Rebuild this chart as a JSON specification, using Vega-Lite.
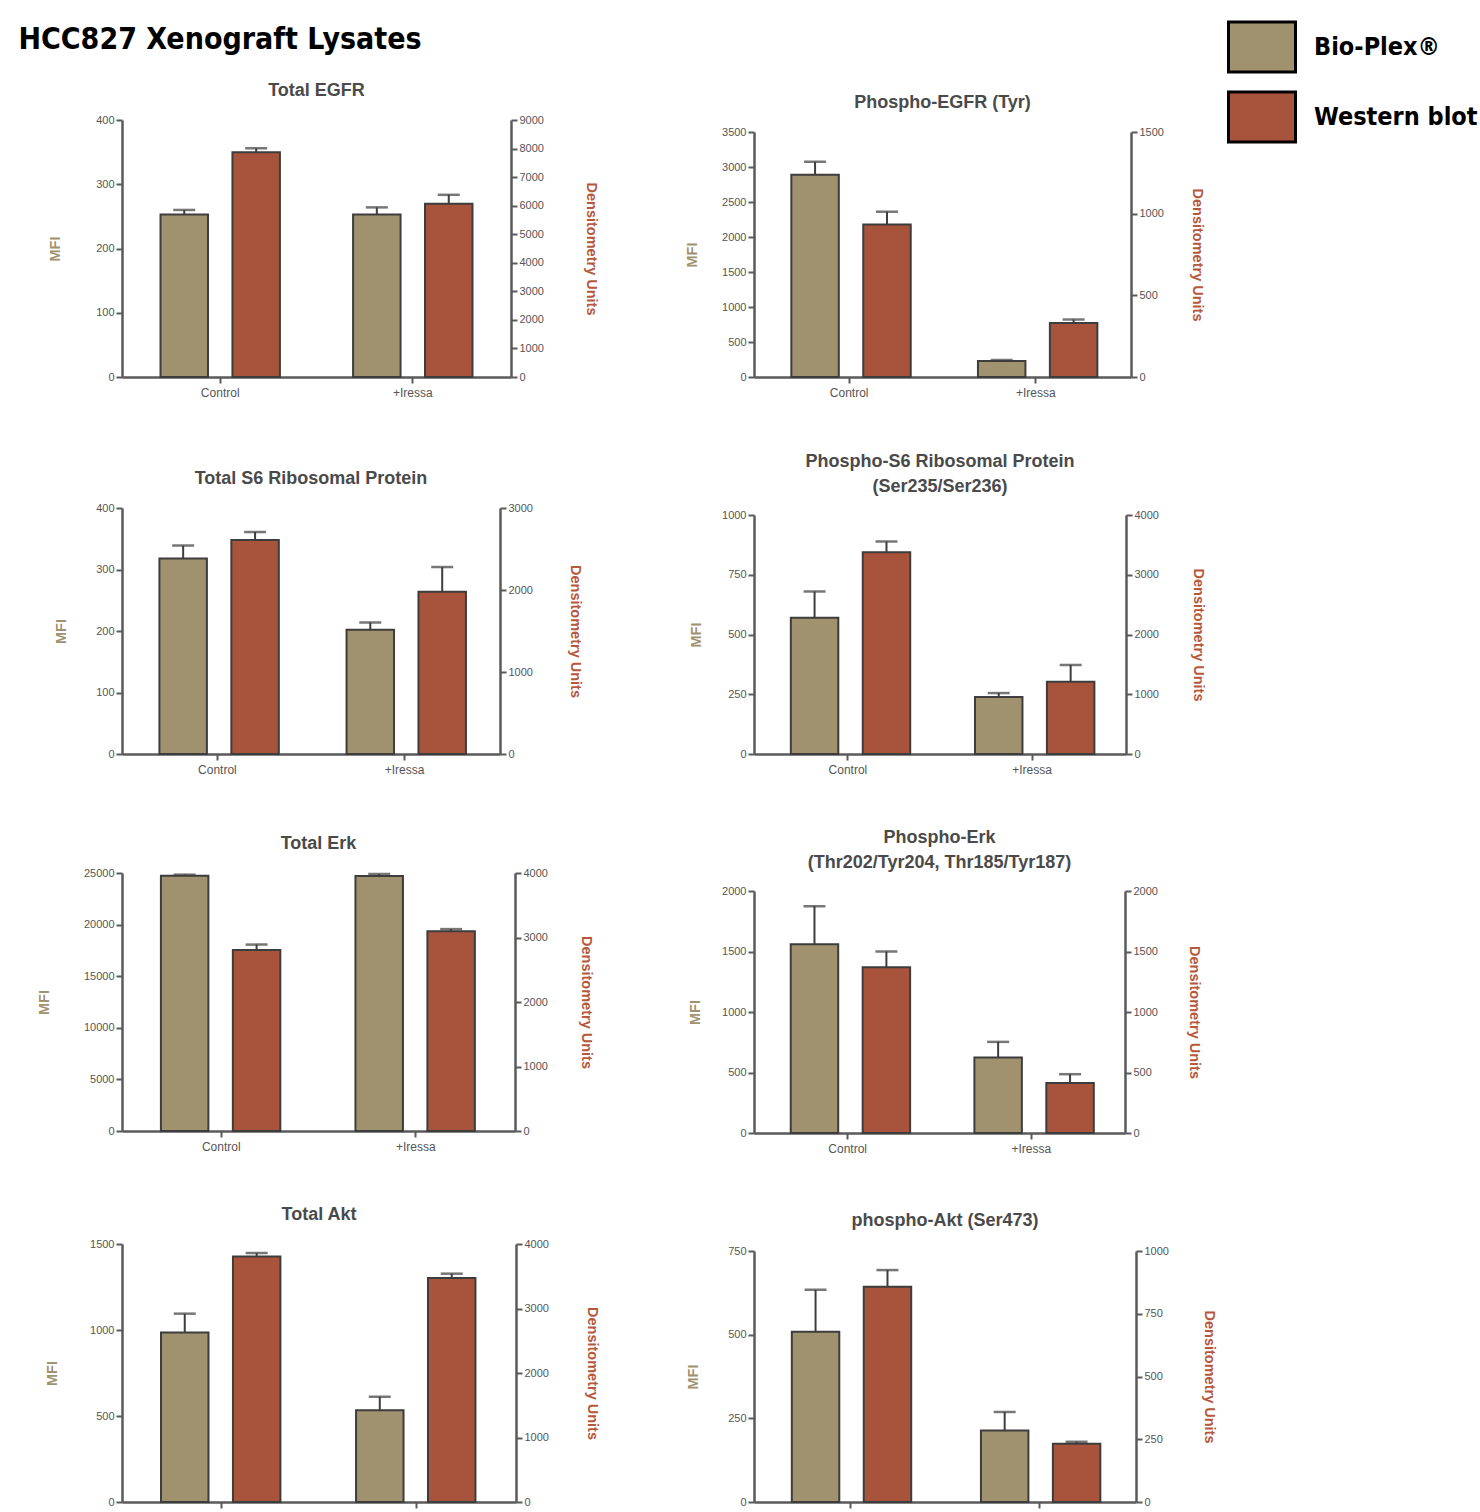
{
"$schema": "https://vega.github.io/schema/vega-lite/v6.json",
"padding": {"left": 18, "top": 12, "right": 0, "bottom": 0},
"data": {"values": [
{"panel":"p1","group":"Control","method":"Bio-Plex®","value":253,"upper":260},
{"panel":"p1","group":"Control","method":"Western blot","value":7870,"upper":8010},
{"panel":"p1","group":"+Iressa","method":"Bio-Plex®","value":253,"upper":264},
{"panel":"p1","group":"+Iressa","method":"Western blot","value":6070,"upper":6380},
{"panel":"p2","group":"Control","method":"Bio-Plex®","value":2890,"upper":3075},
{"panel":"p2","group":"Control","method":"Western blot","value":934,"upper":1012},
{"panel":"p2","group":"+Iressa","method":"Bio-Plex®","value":230,"upper":242},
{"panel":"p2","group":"+Iressa","method":"Western blot","value":330,"upper":352},
{"panel":"p3","group":"Control","method":"Bio-Plex®","value":318,"upper":339},
{"panel":"p3","group":"Control","method":"Western blot","value":2610,"upper":2707},
{"panel":"p3","group":"+Iressa","method":"Bio-Plex®","value":202,"upper":214},
{"panel":"p3","group":"+Iressa","method":"Western blot","value":1980,"upper":2280},
{"panel":"p4","group":"Control","method":"Bio-Plex®","value":570,"upper":680},
{"panel":"p4","group":"Control","method":"Western blot","value":3375,"upper":3555},
{"panel":"p4","group":"+Iressa","method":"Bio-Plex®","value":238,"upper":255},
{"panel":"p4","group":"+Iressa","method":"Western blot","value":1210,"upper":1490},
{"panel":"p5","group":"Control","method":"Bio-Plex®","value":24740,"upper":24840},
{"panel":"p5","group":"Control","method":"Western blot","value":2805,"upper":2890},
{"panel":"p5","group":"+Iressa","method":"Bio-Plex®","value":24700,"upper":24900},
{"panel":"p5","group":"+Iressa","method":"Western blot","value":3095,"upper":3130},
{"panel":"p6","group":"Control","method":"Bio-Plex®","value":1560,"upper":1875},
{"panel":"p6","group":"Control","method":"Western blot","value":1370,"upper":1500},
{"panel":"p6","group":"+Iressa","method":"Bio-Plex®","value":625,"upper":753},
{"panel":"p6","group":"+Iressa","method":"Western blot","value":414,"upper":486},
{"panel":"p7","group":"Control","method":"Bio-Plex®","value":985,"upper":1095},
{"panel":"p7","group":"Control","method":"Western blot","value":3805,"upper":3860},
{"panel":"p7","group":"+Iressa","method":"Bio-Plex®","value":533,"upper":612},
{"panel":"p7","group":"+Iressa","method":"Western blot","value":3473,"upper":3540},
{"panel":"p8","group":"Control","method":"Bio-Plex®","value":509,"upper":634},
{"panel":"p8","group":"Control","method":"Western blot","value":858,"upper":924},
{"panel":"p8","group":"+Iressa","method":"Bio-Plex®","value":214,"upper":269},
{"panel":"p8","group":"+Iressa","method":"Western blot","value":232,"upper":240}
]},
"spacing": 84,
"hconcat": [
{"title": {"text": "HCC827 Xenograft Lysates", "anchor": "start", "frame": "bounds", "dx": -18, "fontSize": 30, "font": "Liberation Sans Narrow, DejaVu Sans Condensed, sans-serif", "fontWeight": "bold", "color": "#000000", "offset": 27, "lineHeight": 30},
 "spacing": 72, "vconcat": [
 {"title": {"text": "Total EGFR"}, "width": 389, "height": 257,
  "transform": [{"filter": "datum.panel == 'p1'"}],
  "layer": [
   {"transform": [{"filter": "datum.method == 'Bio-Plex®'"}],
    "encoding": {"x": {"field":"group","type":"nominal","sort":["Control","+Iressa"],"scale":{"paddingInner":0.38,"paddingOuter":0.2},"axis":{"title":null,"labelAngle":0}}, "xOffset": {"field":"method","type":"nominal","scale":{"domain":["Bio-Plex®","Western blot"],"paddingInner":0.34,"paddingOuter":0}}},
    "layer": [
     {"mark": {"type":"bar","stroke":"#3d3d3d","strokeWidth":2}, "encoding": {"y": {"field":"value","type":"quantitative","scale":{"domain":[0,400],"nice":false},"axis":{"orient":"left","title":"MFI","titleColor":"#a0926e","titlePadding":33,"values":[0,100,200,300,400],"format":"d"}}, "color": {"field":"method","type":"nominal","scale":{"domain":["Bio-Plex®","Western blot"],"range":["#a0926e","#a8543c"]},"legend":{"title":null}}}},
     {"mark": {"type":"rule","color":"#3d3d3d","strokeWidth":2}, "encoding": {"y": {"field":"value","type":"quantitative","scale":{"domain":[0,400],"nice":false},"axis":{"orient":"left","title":"MFI","titleColor":"#a0926e","titlePadding":33,"values":[0,100,200,300,400],"format":"d"}}, "y2": {"field":"upper"}}},
     {"mark": {"type":"tick","color":"#3d3d3d","thickness":2.5,"size":22}, "encoding": {"y": {"field":"upper","type":"quantitative","scale":{"domain":[0,400],"nice":false},"axis":{"orient":"left","title":"MFI","titleColor":"#a0926e","titlePadding":33,"values":[0,100,200,300,400],"format":"d"}}}}
    ]},
   {"transform": [{"filter": "datum.method == 'Western blot'"}],
    "encoding": {"x": {"field":"group","type":"nominal","sort":["Control","+Iressa"],"scale":{"paddingInner":0.38,"paddingOuter":0.2},"axis":{"title":null,"labelAngle":0}}, "xOffset": {"field":"method","type":"nominal","scale":{"domain":["Bio-Plex®","Western blot"],"paddingInner":0.34,"paddingOuter":0}}},
    "layer": [
     {"mark": {"type":"bar","stroke":"#3d3d3d","strokeWidth":2}, "encoding": {"y": {"field":"value","type":"quantitative","scale":{"domain":[0,9000],"nice":false},"axis":{"orient":"right","title":"Densitometry Units","titleColor":"#b5583c","titlePadding":40,"values":[0,1000,2000,3000,4000,5000,6000,7000,8000,9000],"format":"d"}}, "color": {"field":"method","type":"nominal","scale":{"domain":["Bio-Plex®","Western blot"],"range":["#a0926e","#a8543c"]},"legend":{"title":null}}}},
     {"mark": {"type":"rule","color":"#3d3d3d","strokeWidth":2}, "encoding": {"y": {"field":"value","type":"quantitative","scale":{"domain":[0,9000],"nice":false},"axis":{"orient":"right","title":"Densitometry Units","titleColor":"#b5583c","titlePadding":40,"values":[0,1000,2000,3000,4000,5000,6000,7000,8000,9000],"format":"d"}}, "y2": {"field":"upper"}}},
     {"mark": {"type":"tick","color":"#3d3d3d","thickness":2.5,"size":22}, "encoding": {"y": {"field":"upper","type":"quantitative","scale":{"domain":[0,9000],"nice":false},"axis":{"orient":"right","title":"Densitometry Units","titleColor":"#b5583c","titlePadding":40,"values":[0,1000,2000,3000,4000,5000,6000,7000,8000,9000],"format":"d"}}}}
    ]}
  ],
  "resolve": {"scale": {"y": "independent"}}},
 {"spacing": 60, "vconcat": [
  {"title": {"text": "Total S6 Ribosomal Protein"}, "width": 378, "height": 246,
   "transform": [{"filter": "datum.panel == 'p3'"}],
   "layer": [
    {"transform": [{"filter": "datum.method == 'Bio-Plex®'"}],
     "encoding": {"x": {"field":"group","type":"nominal","sort":["Control","+Iressa"],"scale":{"paddingInner":0.38,"paddingOuter":0.2},"axis":{"title":null,"labelAngle":0}}, "xOffset": {"field":"method","type":"nominal","scale":{"domain":["Bio-Plex®","Western blot"],"paddingInner":0.34,"paddingOuter":0}}},
     "layer": [
      {"mark": {"type":"bar","stroke":"#3d3d3d","strokeWidth":2}, "encoding": {"y": {"field":"value","type":"quantitative","scale":{"domain":[0,400],"nice":false},"axis":{"orient":"left","title":"MFI","titleColor":"#a0926e","titlePadding":27,"values":[0,100,200,300,400],"format":"d"}}, "color": {"field":"method","type":"nominal","scale":{"domain":["Bio-Plex®","Western blot"],"range":["#a0926e","#a8543c"]},"legend":{"title":null}}}},
      {"mark": {"type":"rule","color":"#3d3d3d","strokeWidth":2}, "encoding": {"y": {"field":"value","type":"quantitative","scale":{"domain":[0,400],"nice":false},"axis":{"orient":"left","title":"MFI","titleColor":"#a0926e","titlePadding":27,"values":[0,100,200,300,400],"format":"d"}}, "y2": {"field":"upper"}}},
      {"mark": {"type":"tick","color":"#3d3d3d","thickness":2.5,"size":22}, "encoding": {"y": {"field":"upper","type":"quantitative","scale":{"domain":[0,400],"nice":false},"axis":{"orient":"left","title":"MFI","titleColor":"#a0926e","titlePadding":27,"values":[0,100,200,300,400],"format":"d"}}}}
     ]},
    {"transform": [{"filter": "datum.method == 'Western blot'"}],
     "encoding": {"x": {"field":"group","type":"nominal","sort":["Control","+Iressa"],"scale":{"paddingInner":0.38,"paddingOuter":0.2},"axis":{"title":null,"labelAngle":0}}, "xOffset": {"field":"method","type":"nominal","scale":{"domain":["Bio-Plex®","Western blot"],"paddingInner":0.34,"paddingOuter":0}}},
     "layer": [
      {"mark": {"type":"bar","stroke":"#3d3d3d","strokeWidth":2}, "encoding": {"y": {"field":"value","type":"quantitative","scale":{"domain":[0,3000],"nice":false},"axis":{"orient":"right","title":"Densitometry Units","titleColor":"#b5583c","titlePadding":35,"values":[0,1000,2000,3000],"format":"d"}}, "color": {"field":"method","type":"nominal","scale":{"domain":["Bio-Plex®","Western blot"],"range":["#a0926e","#a8543c"]},"legend":{"title":null}}}},
      {"mark": {"type":"rule","color":"#3d3d3d","strokeWidth":2}, "encoding": {"y": {"field":"value","type":"quantitative","scale":{"domain":[0,3000],"nice":false},"axis":{"orient":"right","title":"Densitometry Units","titleColor":"#b5583c","titlePadding":35,"values":[0,1000,2000,3000],"format":"d"}}, "y2": {"field":"upper"}}},
      {"mark": {"type":"tick","color":"#3d3d3d","thickness":2.5,"size":22}, "encoding": {"y": {"field":"upper","type":"quantitative","scale":{"domain":[0,3000],"nice":false},"axis":{"orient":"right","title":"Densitometry Units","titleColor":"#b5583c","titlePadding":35,"values":[0,1000,2000,3000],"format":"d"}}}}
     ]}
   ],
   "resolve": {"scale": {"y": "independent"}}},
  {"spacing": 54, "vconcat": [
   {"title": {"text": "Total Erk"}, "width": 393, "height": 258,
    "transform": [{"filter": "datum.panel == 'p5'"}],
    "layer": [
     {"transform": [{"filter": "datum.method == 'Bio-Plex®'"}],
      "encoding": {"x": {"field":"group","type":"nominal","sort":["Control","+Iressa"],"scale":{"paddingInner":0.38,"paddingOuter":0.2},"axis":{"title":null,"labelAngle":0}}, "xOffset": {"field":"method","type":"nominal","scale":{"domain":["Bio-Plex®","Western blot"],"paddingInner":0.34,"paddingOuter":0}}},
      "layer": [
       {"mark": {"type":"bar","stroke":"#3d3d3d","strokeWidth":2}, "encoding": {"y": {"field":"value","type":"quantitative","scale":{"domain":[0,25000],"nice":false},"axis":{"orient":"left","title":"MFI","titleColor":"#a0926e","titlePadding":32,"values":[0,5000,10000,15000,20000,25000],"format":"d"}}, "color": {"field":"method","type":"nominal","scale":{"domain":["Bio-Plex®","Western blot"],"range":["#a0926e","#a8543c"]},"legend":{"title":null}}}},
       {"mark": {"type":"rule","color":"#3d3d3d","strokeWidth":2}, "encoding": {"y": {"field":"value","type":"quantitative","scale":{"domain":[0,25000],"nice":false},"axis":{"orient":"left","title":"MFI","titleColor":"#a0926e","titlePadding":32,"values":[0,5000,10000,15000,20000,25000],"format":"d"}}, "y2": {"field":"upper"}}},
       {"mark": {"type":"tick","color":"#3d3d3d","thickness":2.5,"size":22}, "encoding": {"y": {"field":"upper","type":"quantitative","scale":{"domain":[0,25000],"nice":false},"axis":{"orient":"left","title":"MFI","titleColor":"#a0926e","titlePadding":32,"values":[0,5000,10000,15000,20000,25000],"format":"d"}}}}
      ]},
     {"transform": [{"filter": "datum.method == 'Western blot'"}],
      "encoding": {"x": {"field":"group","type":"nominal","sort":["Control","+Iressa"],"scale":{"paddingInner":0.38,"paddingOuter":0.2},"axis":{"title":null,"labelAngle":0}}, "xOffset": {"field":"method","type":"nominal","scale":{"domain":["Bio-Plex®","Western blot"],"paddingInner":0.34,"paddingOuter":0}}},
      "layer": [
       {"mark": {"type":"bar","stroke":"#3d3d3d","strokeWidth":2}, "encoding": {"y": {"field":"value","type":"quantitative","scale":{"domain":[0,4000],"nice":false},"axis":{"orient":"right","title":"Densitometry Units","titleColor":"#b5583c","titlePadding":31,"values":[0,1000,2000,3000,4000],"format":"d"}}, "color": {"field":"method","type":"nominal","scale":{"domain":["Bio-Plex®","Western blot"],"range":["#a0926e","#a8543c"]},"legend":{"title":null}}}},
       {"mark": {"type":"rule","color":"#3d3d3d","strokeWidth":2}, "encoding": {"y": {"field":"value","type":"quantitative","scale":{"domain":[0,4000],"nice":false},"axis":{"orient":"right","title":"Densitometry Units","titleColor":"#b5583c","titlePadding":31,"values":[0,1000,2000,3000,4000],"format":"d"}}, "y2": {"field":"upper"}}},
       {"mark": {"type":"tick","color":"#3d3d3d","thickness":2.5,"size":22}, "encoding": {"y": {"field":"upper","type":"quantitative","scale":{"domain":[0,4000],"nice":false},"axis":{"orient":"right","title":"Densitometry Units","titleColor":"#b5583c","titlePadding":31,"values":[0,1000,2000,3000,4000],"format":"d"}}}}
      ]}
    ],
    "resolve": {"scale": {"y": "independent"}}},
   {"title": {"text": "Total Akt"}, "width": 394, "height": 258,
    "transform": [{"filter": "datum.panel == 'p7'"}],
    "layer": [
     {"transform": [{"filter": "datum.method == 'Bio-Plex®'"}],
      "encoding": {"x": {"field":"group","type":"nominal","sort":["Control","+Iressa"],"scale":{"paddingInner":0.38,"paddingOuter":0.2},"axis":{"title":null,"labelAngle":0}}, "xOffset": {"field":"method","type":"nominal","scale":{"domain":["Bio-Plex®","Western blot"],"paddingInner":0.34,"paddingOuter":0}}},
      "layer": [
       {"mark": {"type":"bar","stroke":"#3d3d3d","strokeWidth":2}, "encoding": {"y": {"field":"value","type":"quantitative","scale":{"domain":[0,1500],"nice":false},"axis":{"orient":"left","title":"MFI","titleColor":"#a0926e","titlePadding":30,"values":[0,500,1000,1500],"format":"d"}}, "color": {"field":"method","type":"nominal","scale":{"domain":["Bio-Plex®","Western blot"],"range":["#a0926e","#a8543c"]},"legend":{"title":null}}}},
       {"mark": {"type":"rule","color":"#3d3d3d","strokeWidth":2}, "encoding": {"y": {"field":"value","type":"quantitative","scale":{"domain":[0,1500],"nice":false},"axis":{"orient":"left","title":"MFI","titleColor":"#a0926e","titlePadding":30,"values":[0,500,1000,1500],"format":"d"}}, "y2": {"field":"upper"}}},
       {"mark": {"type":"tick","color":"#3d3d3d","thickness":2.5,"size":22}, "encoding": {"y": {"field":"upper","type":"quantitative","scale":{"domain":[0,1500],"nice":false},"axis":{"orient":"left","title":"MFI","titleColor":"#a0926e","titlePadding":30,"values":[0,500,1000,1500],"format":"d"}}}}
      ]},
     {"transform": [{"filter": "datum.method == 'Western blot'"}],
      "encoding": {"x": {"field":"group","type":"nominal","sort":["Control","+Iressa"],"scale":{"paddingInner":0.38,"paddingOuter":0.2},"axis":{"title":null,"labelAngle":0}}, "xOffset": {"field":"method","type":"nominal","scale":{"domain":["Bio-Plex®","Western blot"],"paddingInner":0.34,"paddingOuter":0}}},
      "layer": [
       {"mark": {"type":"bar","stroke":"#3d3d3d","strokeWidth":2}, "encoding": {"y": {"field":"value","type":"quantitative","scale":{"domain":[0,4000],"nice":false},"axis":{"orient":"right","title":"Densitometry Units","titleColor":"#b5583c","titlePadding":36,"values":[0,1000,2000,3000,4000],"format":"d"}}, "color": {"field":"method","type":"nominal","scale":{"domain":["Bio-Plex®","Western blot"],"range":["#a0926e","#a8543c"]},"legend":{"title":null}}}},
       {"mark": {"type":"rule","color":"#3d3d3d","strokeWidth":2}, "encoding": {"y": {"field":"value","type":"quantitative","scale":{"domain":[0,4000],"nice":false},"axis":{"orient":"right","title":"Densitometry Units","titleColor":"#b5583c","titlePadding":36,"values":[0,1000,2000,3000,4000],"format":"d"}}, "y2": {"field":"upper"}}},
       {"mark": {"type":"tick","color":"#3d3d3d","thickness":2.5,"size":22}, "encoding": {"y": {"field":"upper","type":"quantitative","scale":{"domain":[0,4000],"nice":false},"axis":{"orient":"right","title":"Densitometry Units","titleColor":"#b5583c","titlePadding":36,"values":[0,1000,2000,3000,4000],"format":"d"}}}}
      ]}
    ],
    "resolve": {"scale": {"y": "independent"}}}
  ]}
 ]}
]},
{"spacing": 55, "vconcat": [
 {"title": {"text": "Phospho-EGFR (Tyr)", "offset": 8}, "width": 377, "height": 257,
  "transform": [{"filter": "datum.panel == 'p2'"}],
  "layer": [
   {"transform": [{"filter": "datum.method == 'Bio-Plex®'"}],
    "encoding": {"x": {"field":"group","type":"nominal","sort":["Control","+Iressa"],"scale":{"paddingInner":0.38,"paddingOuter":0.2},"axis":{"title":null,"labelAngle":0}}, "xOffset": {"field":"method","type":"nominal","scale":{"domain":["Bio-Plex®","Western blot"],"paddingInner":0.34,"paddingOuter":0}}},
    "layer": [
     {"mark": {"type":"bar","stroke":"#3d3d3d","strokeWidth":2}, "encoding": {"y": {"field":"value","type":"quantitative","scale":{"domain":[0,3500],"nice":false,"range":[257,12]},"axis":{"orient":"left","title":"MFI","titleColor":"#a0926e","titlePadding":22,"values":[0,500,1000,1500,2000,2500,3000,3500],"format":"d"}}, "color": {"field":"method","type":"nominal","scale":{"domain":["Bio-Plex®","Western blot"],"range":["#a0926e","#a8543c"]},"legend":{"title":null}}}},
     {"mark": {"type":"rule","color":"#3d3d3d","strokeWidth":2}, "encoding": {"y": {"field":"value","type":"quantitative","scale":{"domain":[0,3500],"nice":false,"range":[257,12]},"axis":{"orient":"left","title":"MFI","titleColor":"#a0926e","titlePadding":22,"values":[0,500,1000,1500,2000,2500,3000,3500],"format":"d"}}, "y2": {"field":"upper"}}},
     {"mark": {"type":"tick","color":"#3d3d3d","thickness":2.5,"size":22}, "encoding": {"y": {"field":"upper","type":"quantitative","scale":{"domain":[0,3500],"nice":false,"range":[257,12]},"axis":{"orient":"left","title":"MFI","titleColor":"#a0926e","titlePadding":22,"values":[0,500,1000,1500,2000,2500,3000,3500],"format":"d"}}}}
    ]},
   {"transform": [{"filter": "datum.method == 'Western blot'"}],
    "encoding": {"x": {"field":"group","type":"nominal","sort":["Control","+Iressa"],"scale":{"paddingInner":0.38,"paddingOuter":0.2},"axis":{"title":null,"labelAngle":0}}, "xOffset": {"field":"method","type":"nominal","scale":{"domain":["Bio-Plex®","Western blot"],"paddingInner":0.34,"paddingOuter":0}}},
    "layer": [
     {"mark": {"type":"bar","stroke":"#3d3d3d","strokeWidth":2}, "encoding": {"y": {"field":"value","type":"quantitative","scale":{"domain":[0,1500],"nice":false,"range":[257,12]},"axis":{"orient":"right","title":"Densitometry Units","titleColor":"#b5583c","titlePadding":26,"values":[0,500,1000,1500],"format":"d"}}, "color": {"field":"method","type":"nominal","scale":{"domain":["Bio-Plex®","Western blot"],"range":["#a0926e","#a8543c"]},"legend":{"title":null}}}},
     {"mark": {"type":"rule","color":"#3d3d3d","strokeWidth":2}, "encoding": {"y": {"field":"value","type":"quantitative","scale":{"domain":[0,1500],"nice":false,"range":[257,12]},"axis":{"orient":"right","title":"Densitometry Units","titleColor":"#b5583c","titlePadding":26,"values":[0,500,1000,1500],"format":"d"}}, "y2": {"field":"upper"}}},
     {"mark": {"type":"tick","color":"#3d3d3d","thickness":2.5,"size":22}, "encoding": {"y": {"field":"upper","type":"quantitative","scale":{"domain":[0,1500],"nice":false,"range":[257,12]},"axis":{"orient":"right","title":"Densitometry Units","titleColor":"#b5583c","titlePadding":26,"values":[0,500,1000,1500],"format":"d"}}}}
    ]}
  ],
  "resolve": {"scale": {"y": "independent"}}},
 {"spacing": 54, "vconcat": [
  {"title": {"text": ["Phospho-S6 Ribosomal Protein", "(Ser235/Ser236)"], "offset": 13}, "width": 372, "height": 239,
   "transform": [{"filter": "datum.panel == 'p4'"}],
   "layer": [
    {"transform": [{"filter": "datum.method == 'Bio-Plex®'"}],
     "encoding": {"x": {"field":"group","type":"nominal","sort":["Control","+Iressa"],"scale":{"paddingInner":0.38,"paddingOuter":0.2},"axis":{"title":null,"labelAngle":0}}, "xOffset": {"field":"method","type":"nominal","scale":{"domain":["Bio-Plex®","Western blot"],"paddingInner":0.34,"paddingOuter":0}}},
     "layer": [
      {"mark": {"type":"bar","stroke":"#3d3d3d","strokeWidth":2}, "encoding": {"y": {"field":"value","type":"quantitative","scale":{"domain":[0,1000],"nice":false},"axis":{"orient":"left","title":"MFI","titleColor":"#a0926e","titlePadding":18,"values":[0,250,500,750,1000],"format":"d"}}, "color": {"field":"method","type":"nominal","scale":{"domain":["Bio-Plex®","Western blot"],"range":["#a0926e","#a8543c"]},"legend":{"title":null}}}},
      {"mark": {"type":"rule","color":"#3d3d3d","strokeWidth":2}, "encoding": {"y": {"field":"value","type":"quantitative","scale":{"domain":[0,1000],"nice":false},"axis":{"orient":"left","title":"MFI","titleColor":"#a0926e","titlePadding":18,"values":[0,250,500,750,1000],"format":"d"}}, "y2": {"field":"upper"}}},
      {"mark": {"type":"tick","color":"#3d3d3d","thickness":2.5,"size":22}, "encoding": {"y": {"field":"upper","type":"quantitative","scale":{"domain":[0,1000],"nice":false},"axis":{"orient":"left","title":"MFI","titleColor":"#a0926e","titlePadding":18,"values":[0,250,500,750,1000],"format":"d"}}}}
     ]},
    {"transform": [{"filter": "datum.method == 'Western blot'"}],
     "encoding": {"x": {"field":"group","type":"nominal","sort":["Control","+Iressa"],"scale":{"paddingInner":0.38,"paddingOuter":0.2},"axis":{"title":null,"labelAngle":0}}, "xOffset": {"field":"method","type":"nominal","scale":{"domain":["Bio-Plex®","Western blot"],"paddingInner":0.34,"paddingOuter":0}}},
     "layer": [
      {"mark": {"type":"bar","stroke":"#3d3d3d","strokeWidth":2}, "encoding": {"y": {"field":"value","type":"quantitative","scale":{"domain":[0,4000],"nice":false},"axis":{"orient":"right","title":"Densitometry Units","titleColor":"#b5583c","titlePadding":32,"values":[0,1000,2000,3000,4000],"format":"d"}}, "color": {"field":"method","type":"nominal","scale":{"domain":["Bio-Plex®","Western blot"],"range":["#a0926e","#a8543c"]},"legend":{"title":null}}}},
      {"mark": {"type":"rule","color":"#3d3d3d","strokeWidth":2}, "encoding": {"y": {"field":"value","type":"quantitative","scale":{"domain":[0,4000],"nice":false},"axis":{"orient":"right","title":"Densitometry Units","titleColor":"#b5583c","titlePadding":32,"values":[0,1000,2000,3000,4000],"format":"d"}}, "y2": {"field":"upper"}}},
      {"mark": {"type":"tick","color":"#3d3d3d","thickness":2.5,"size":22}, "encoding": {"y": {"field":"upper","type":"quantitative","scale":{"domain":[0,4000],"nice":false},"axis":{"orient":"right","title":"Densitometry Units","titleColor":"#b5583c","titlePadding":32,"values":[0,1000,2000,3000,4000],"format":"d"}}}}
     ]}
   ],
   "resolve": {"scale": {"y": "independent"}}},
  {"spacing": 58, "vconcat": [
   {"title": {"text": ["Phospho-Erk", "(Thr202/Tyr204, Thr185/Tyr187)"], "offset": 13}, "width": 371, "height": 242,
    "transform": [{"filter": "datum.panel == 'p6'"}],
    "layer": [
     {"transform": [{"filter": "datum.method == 'Bio-Plex®'"}],
      "encoding": {"x": {"field":"group","type":"nominal","sort":["Control","+Iressa"],"scale":{"paddingInner":0.38,"paddingOuter":0.2},"axis":{"title":null,"labelAngle":0}}, "xOffset": {"field":"method","type":"nominal","scale":{"domain":["Bio-Plex®","Western blot"],"paddingInner":0.34,"paddingOuter":0}}},
      "layer": [
       {"mark": {"type":"bar","stroke":"#3d3d3d","strokeWidth":2}, "encoding": {"y": {"field":"value","type":"quantitative","scale":{"domain":[0,2000],"nice":false},"axis":{"orient":"left","title":"MFI","titleColor":"#a0926e","titlePadding":19,"values":[0,500,1000,1500,2000],"format":"d"}}, "color": {"field":"method","type":"nominal","scale":{"domain":["Bio-Plex®","Western blot"],"range":["#a0926e","#a8543c"]},"legend":{"title":null}}}},
       {"mark": {"type":"rule","color":"#3d3d3d","strokeWidth":2}, "encoding": {"y": {"field":"value","type":"quantitative","scale":{"domain":[0,2000],"nice":false},"axis":{"orient":"left","title":"MFI","titleColor":"#a0926e","titlePadding":19,"values":[0,500,1000,1500,2000],"format":"d"}}, "y2": {"field":"upper"}}},
       {"mark": {"type":"tick","color":"#3d3d3d","thickness":2.5,"size":22}, "encoding": {"y": {"field":"upper","type":"quantitative","scale":{"domain":[0,2000],"nice":false},"axis":{"orient":"left","title":"MFI","titleColor":"#a0926e","titlePadding":19,"values":[0,500,1000,1500,2000],"format":"d"}}}}
      ]},
     {"transform": [{"filter": "datum.method == 'Western blot'"}],
      "encoding": {"x": {"field":"group","type":"nominal","sort":["Control","+Iressa"],"scale":{"paddingInner":0.38,"paddingOuter":0.2},"axis":{"title":null,"labelAngle":0}}, "xOffset": {"field":"method","type":"nominal","scale":{"domain":["Bio-Plex®","Western blot"],"paddingInner":0.34,"paddingOuter":0}}},
      "layer": [
       {"mark": {"type":"bar","stroke":"#3d3d3d","strokeWidth":2}, "encoding": {"y": {"field":"value","type":"quantitative","scale":{"domain":[0,2000],"nice":false},"axis":{"orient":"right","title":"Densitometry Units","titleColor":"#b5583c","titlePadding":29,"values":[0,500,1000,1500,2000],"format":"d"}}, "color": {"field":"method","type":"nominal","scale":{"domain":["Bio-Plex®","Western blot"],"range":["#a0926e","#a8543c"]},"legend":{"title":null}}}},
       {"mark": {"type":"rule","color":"#3d3d3d","strokeWidth":2}, "encoding": {"y": {"field":"value","type":"quantitative","scale":{"domain":[0,2000],"nice":false},"axis":{"orient":"right","title":"Densitometry Units","titleColor":"#b5583c","titlePadding":29,"values":[0,500,1000,1500,2000],"format":"d"}}, "y2": {"field":"upper"}}},
       {"mark": {"type":"tick","color":"#3d3d3d","thickness":2.5,"size":22}, "encoding": {"y": {"field":"upper","type":"quantitative","scale":{"domain":[0,2000],"nice":false},"axis":{"orient":"right","title":"Densitometry Units","titleColor":"#b5583c","titlePadding":29,"values":[0,500,1000,1500,2000],"format":"d"}}}}
      ]}
    ],
    "resolve": {"scale": {"y": "independent"}}},
   {"title": {"text": "phospho-Akt (Ser473)", "offset": 15}, "width": 382, "height": 251,
    "transform": [{"filter": "datum.panel == 'p8'"}],
    "layer": [
     {"transform": [{"filter": "datum.method == 'Bio-Plex®'"}],
      "encoding": {"x": {"field":"group","type":"nominal","sort":["Control","+Iressa"],"scale":{"paddingInner":0.38,"paddingOuter":0.2},"axis":{"title":null,"labelAngle":0}}, "xOffset": {"field":"method","type":"nominal","scale":{"domain":["Bio-Plex®","Western blot"],"paddingInner":0.34,"paddingOuter":0}}},
      "layer": [
       {"mark": {"type":"bar","stroke":"#3d3d3d","strokeWidth":2}, "encoding": {"y": {"field":"value","type":"quantitative","scale":{"domain":[0,750],"nice":false},"axis":{"orient":"left","title":"MFI","titleColor":"#a0926e","titlePadding":27,"values":[0,250,500,750],"format":"d"}}, "color": {"field":"method","type":"nominal","scale":{"domain":["Bio-Plex®","Western blot"],"range":["#a0926e","#a8543c"]},"legend":{"title":null}}}},
       {"mark": {"type":"rule","color":"#3d3d3d","strokeWidth":2}, "encoding": {"y": {"field":"value","type":"quantitative","scale":{"domain":[0,750],"nice":false},"axis":{"orient":"left","title":"MFI","titleColor":"#a0926e","titlePadding":27,"values":[0,250,500,750],"format":"d"}}, "y2": {"field":"upper"}}},
       {"mark": {"type":"tick","color":"#3d3d3d","thickness":2.5,"size":22}, "encoding": {"y": {"field":"upper","type":"quantitative","scale":{"domain":[0,750],"nice":false},"axis":{"orient":"left","title":"MFI","titleColor":"#a0926e","titlePadding":27,"values":[0,250,500,750],"format":"d"}}}}
      ]},
     {"transform": [{"filter": "datum.method == 'Western blot'"}],
      "encoding": {"x": {"field":"group","type":"nominal","sort":["Control","+Iressa"],"scale":{"paddingInner":0.38,"paddingOuter":0.2},"axis":{"title":null,"labelAngle":0}}, "xOffset": {"field":"method","type":"nominal","scale":{"domain":["Bio-Plex®","Western blot"],"paddingInner":0.34,"paddingOuter":0}}},
      "layer": [
       {"mark": {"type":"bar","stroke":"#3d3d3d","strokeWidth":2}, "encoding": {"y": {"field":"value","type":"quantitative","scale":{"domain":[0,1000],"nice":false},"axis":{"orient":"right","title":"Densitometry Units","titleColor":"#b5583c","titlePadding":33,"values":[0,250,500,750,1000],"format":"d"}}, "color": {"field":"method","type":"nominal","scale":{"domain":["Bio-Plex®","Western blot"],"range":["#a0926e","#a8543c"]},"legend":{"title":null}}}},
       {"mark": {"type":"rule","color":"#3d3d3d","strokeWidth":2}, "encoding": {"y": {"field":"value","type":"quantitative","scale":{"domain":[0,1000],"nice":false},"axis":{"orient":"right","title":"Densitometry Units","titleColor":"#b5583c","titlePadding":33,"values":[0,250,500,750,1000],"format":"d"}}, "y2": {"field":"upper"}}},
       {"mark": {"type":"tick","color":"#3d3d3d","thickness":2.5,"size":22}, "encoding": {"y": {"field":"upper","type":"quantitative","scale":{"domain":[0,1000],"nice":false},"axis":{"orient":"right","title":"Densitometry Units","titleColor":"#b5583c","titlePadding":33,"values":[0,250,500,750,1000],"format":"d"}}}}
      ]}
    ],
    "resolve": {"scale": {"y": "independent"}}}
  ]}
 ]}
]}
],
"config": {
 "view": {"stroke": null},
 "axis": {"domainColor": "#5a5a5a", "domainWidth": 2.5, "tickColor": "#5a5a5a", "tickWidth": 2, "tickSize": 6, "labelFont": "Liberation Sans", "labelFontSize": 11, "labelColor": "#555555", "titleFont": "Liberation Sans", "titleFontSize": 14.5, "titleFontWeight": "bold", "grid": false},
 "axisX": {"labelPadding": 4, "labelFontSize": 12},
 "title": {"font": "Liberation Sans", "fontSize": 18, "fontWeight": "bold", "color": "#4a4a4a", "offset": 14, "lineHeight": 25},
 "legend": {"orient": "none", "legendX": 1105, "legendY": -108, "direction": "vertical", "rowPadding": 4, "labelOffset": 17, "labelFontSize": 25, "labelFont": "Liberation Sans Narrow, DejaVu Sans Condensed, sans-serif", "labelFontWeight": "bold", "labelColor": "#000000", "labelLimit": 400, "symbolType": "M-1,-0.746L1,-0.746L1,0.746L-1,0.746Z", "symbolSize": 4489, "symbolStrokeColor": "#000000", "symbolStrokeWidth": 3, "symbolOpacity": 1, "padding": 0}
}
}
